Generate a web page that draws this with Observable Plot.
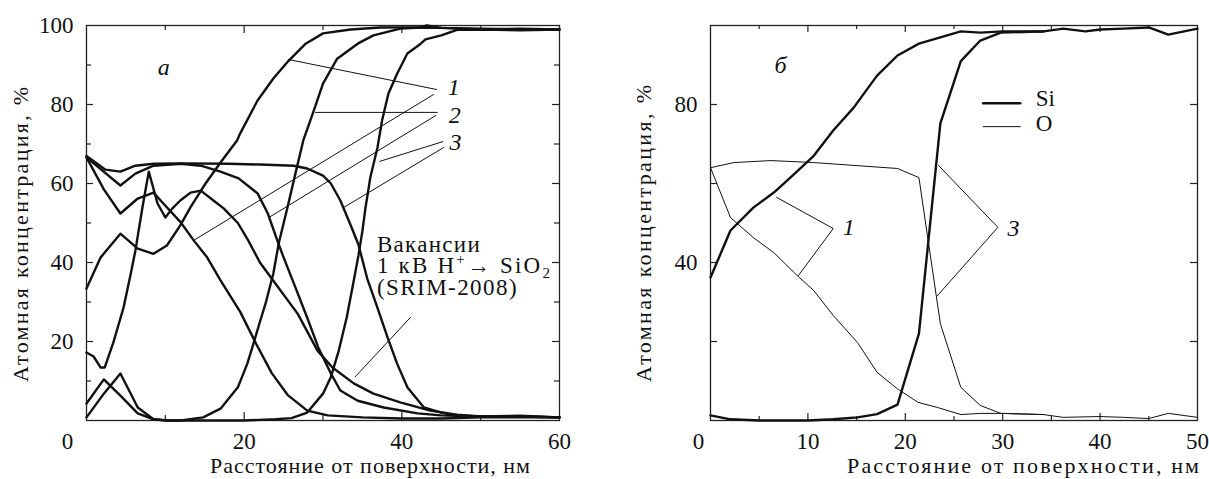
<!DOCTYPE html>
<html><head><meta charset="utf-8">
<script src="https://cdn.jsdelivr.net/npm/d3@7"></script>
<script src="https://cdn.jsdelivr.net/npm/@observablehq/plot@0.6"></script>
<style>
body{margin:0;background:#fff;}
#wrap{display:flex;width:1209px;height:479px;overflow:hidden;}
svg{overflow:visible;}
</style></head><body><div id="wrap"></div>
<script>
const FONT = '"Liberation Serif", "Times New Roman", serif';

// ---------- Panel а: depth (nm) vs atomic concentration (%) ----------
const aSi1 = [[0,33.4],[1.8,41.3],[4.3,47.3],[6.5,43.5],[8.5,42.2],[10.2,44.3],[11.9,49.4],[13.2,54],[15.1,60],[17,65.3],[19.1,70.9],[19.5,72.7],[21.7,81],[23.7,86.6],[25.6,91],[27.8,95.4],[30,98],[33.5,99],[37.3,99.5],[42.4,99.6],[43.2,100],[45,99.4],[50,99.2],[55,99],[60,99]];
const aO1 = [[0,66.6],[2.2,58.5],[4.3,52.4],[6.5,56.2],[8.5,57.7],[9.4,55.7],[11.9,50.3],[13.6,45.6],[15.3,41.3],[17,35.5],[19.5,27.5],[21.5,19.5],[23.5,12],[25.5,6.5],[28,2.5],[30.6,1.3],[35,0.8],[40,0.5],[45,0.5],[50,0.8],[55,0.8],[60,0.8]];
const aSi2 = [[0,4.3],[2.2,10.4],[4.3,6.3],[6.5,1.8],[8.5,0.3],[10.3,0],[12,0],[14.8,0.8],[17,3],[19.2,8.4],[20.4,14.4],[21.2,19.6],[22,25],[22.7,29.5],[23.7,37.2],[24.4,45],[25.5,54],[26.5,62.5],[27.5,70.9],[28.7,77.7],[30,85.3],[31.8,91.6],[34.4,95.4],[36.4,97.5],[39.8,99.2],[42.4,99.5],[45,99.4],[50,99],[55,99.2],[60,99]];
const aO2 = [[0,66.6],[4.3,59.5],[6.2,62.5],[8.5,64.5],[12,65],[14.5,64.5],[17,63],[19.3,61.3],[21.7,57.5],[23,52.4],[24.2,45.6],[25,41.3],[26.5,33.7],[28,26],[29.4,18.5],[31,11.9],[32.2,7.6],[34.4,5],[37.7,3.3],[42,1.8],[45,1.3],[50,1],[55,1],[60,0.8]];
const aSi3 = [[0,0.8],[2.2,6.8],[4.3,11.9],[6.5,3.3],[8.5,0.3],[10,0],[15,0],[20,0],[24,0.3],[26,0.6],[28,2],[30,6.8],[31,11],[32,17.7],[33,26],[33.9,35.4],[34.5,41.8],[35,48],[35.4,54],[36,61.5],[36.9,69],[37.5,76],[38.3,82.8],[39.4,87.8],[40.7,92.9],[42.4,95.4],[43,96.5],[45,97.5],[47,98.9],[50,99],[55,98.8],[60,99]];
const aO3 = [[0,67],[2.4,63.5],[4.3,63],[6.2,64.5],[8.5,65],[12,65.1],[18,65],[22,64.8],[26.3,64.5],[28,63.8],[30,62],[31,60],[32.2,55.7],[33.5,49.5],[34.5,44.5],[35.6,36],[36.9,28.6],[38.2,21],[39.4,14.4],[40.7,8.4],[42.8,3.3],[45,2],[47,1.2],[50,1],[55,1.2],[60,0.8]];
const aVac = [[0,17.2],[0.9,16.2],[1.8,13.4],[2.3,13.4],[3.4,19.7],[4.7,28.6],[5.6,37],[6.2,43],[7.1,54],[7.9,63],[9,55],[10,51.4],[10.9,53.7],[11.9,55.7],[13.2,57.7],[14.5,58.2],[16.1,55.7],[17.4,53.7],[19.2,50],[20.4,46],[22,40],[23.7,35.4],[26.8,27],[29.3,17.7],[31.2,13.4],[33.9,9.4],[36.4,6.8],[39.8,4.6],[43.6,2.5],[47,1.5],[50,1],[55,1],[60,0.8]];
const aXLabels = [20,40,60];
const aYLabels = [20,40,60,80,100];
const aXMajor = [20,40], aXMinor = [10,30,50];
const aYMajor = [20,40,60,80], aYMinor = [10,30,50,70,90];

// ---------- Panel б ----------
const bSi1 = [[0,36.2],[2.05,48.1],[4.4,53.9],[6.5,57.7],[8.2,61.5],[10.6,67],[12.6,73.4],[14.7,79.2],[17.1,87.3],[19.2,92.4],[21.4,95.4],[23.6,97],[25.7,98.5],[27.7,98.2],[30,98.5],[34.2,98.5],[36.2,99.2],[38.5,98.5],[40,99],[42.4,99.2],[45,99.5],[47,97.7],[50,99.2]];
const bSi3 = [[0,1.3],[2.05,0.3],[5,0],[10,0],[12.6,0.3],[15.1,0.8],[17.1,1.6],[19.2,4],[21.4,22],[23.6,75.2],[25.7,91],[27.7,96.2],[29.8,98.2],[34.2,98.5]];
const bO1 = [[0,64],[2.05,51.4],[4.4,46.3],[6.5,42.5],[8.9,36.7],[10.6,32.9],[12.6,26.6],[15.1,19.7],[17.1,12.2],[19.2,8],[21.3,4.6],[23.3,3.3],[25.7,1.5],[27.7,1.8],[30,1.8],[34.2,1.5]];
const bO3 = [[0,64],[2.4,65.3],[6.2,65.8],[10.6,65.3],[19.2,63.8],[21.4,61.5],[23.6,24.5],[25.7,8.4],[27.7,3.8],[29.8,1.8],[34.2,1.5],[36.2,0.8],[40,1],[42.4,0.8],[45,0.5],[47,1.8],[50,0.8]];
const bXLabels = [10,20,30,40,50];
const bYLabels = [40,80];
const bXMajor = [10,20,30,40], bXMinor = [5,15,25,35,45];
const bYMajor = [20,40,60,80];

// ---------- annotations (data units) ----------
const aLeaders = [
  [[44.4,83.8],[25.6,91.4]], [[44.0,82.5],[13.6,45.6]],
  [[29.05,78],[44.5,78]], [[44.3,77.2],[23.3,51.6]],
  [[45.2,70.6],[37.2,65.6]], [[45.3,69.1],[32.6,53.9]],
  [[41.1,26.1],[34.1,11.1]]
];
const aNums = [{x:46.6,y:84.3,t:"1"},{x:46.7,y:77.2,t:"2"},{x:46.8,y:70.4,t:"3"},{x:9.8,y:89.4,t:"а"}];
const bLeaders = [[[6.78,56.5],[12.6,48.6],[9.03,36.7]], [[23.4,64.6],[29.5,48.9],[23.3,31.6]]];
const bNums = [{x:14.2,y:48.9,t:"1"},{x:31.1,y:48.6,t:"3"},{x:7.2,y:89.9,t:"б"}];
const bLegendSi = [[28.0,80.3],[31.8,80.3]];
const bLegendO = [[28.0,74.4],[31.8,74.4]];
const bLegendText = [{x:33.4,y:81.6,t:"Si"},{x:33.4,y:75.1,t:"O"}];

const INK = "#111";
const H = 395; // frame height in px

function tickMarks(xMajor, xMinor, yMajor, yMinor, W, lenX, lenXm, lenY, lenYm) {
  const s = {stroke: "#222", strokeWidth: 1.2};
  const m = [];
  m.push(Plot.ruleX(xMajor, {x: d => d, insetTop: H - lenX, ...s}));
  m.push(Plot.ruleX(xMajor, {x: d => d, insetBottom: H - lenX, ...s}));
  if (xMinor.length) {
    m.push(Plot.ruleX(xMinor, {x: d => d, insetTop: H - lenXm, ...s}));
    m.push(Plot.ruleX(xMinor, {x: d => d, insetBottom: H - lenXm, ...s}));
  }
  m.push(Plot.ruleY(yMajor, {y: d => d, insetRight: W - lenY, ...s}));
  m.push(Plot.ruleY(yMajor, {y: d => d, insetLeft: W - lenY, ...s}));
  if (yMinor.length) {
    m.push(Plot.ruleY(yMinor, {y: d => d, insetRight: W - lenYm, ...s}));
    m.push(Plot.ruleY(yMinor, {y: d => d, insetLeft: W - lenYm, ...s}));
  }
  return m;
}
const thick = arr => Plot.line(arr, {x: d => d[0], y: d => d[1], stroke: INK, strokeWidth: 2.4, strokeLinejoin: "round"});
const thin = arr => Plot.line(arr, {x: d => d[0], y: d => d[1], stroke: INK, strokeWidth: 1, strokeLinejoin: "round"});

const styleObj = {fontFamily: FONT, fontSize: "23px", color: INK, background: "white", overflow: "visible"};

const plotA = Plot.plot({
  width: 600, height: 479, marginLeft: 86, marginRight: 41, marginTop: 25, marginBottom: 59,
  x: {domain: [0, 60], axis: null}, y: {domain: [0, 100], axis: null},
  style: styleObj,
  marks: [
    ...tickMarks(aXMajor, aXMinor, aYMajor, aYMinor, 473, 8, 5, 7, 5),
    Plot.frame({stroke: "#222", strokeWidth: 1.3}),
    Plot.axisX({ticks: aXLabels, tickSize: 0, tickPadding: 12, label: null}),
    Plot.axisX({ticks: [0], tickSize: 0, tickPadding: 12, dx: -19, label: null}),
    Plot.axisY({ticks: aYLabels, tickSize: 0, tickPadding: 13, label: null}),
    ...aLeaders.map(thin),
    thick(aSi1), thick(aO1), thick(aSi2), thick(aO2), thick(aSi3), thick(aO3), thick(aVac),
    Plot.text(aNums, {x: "x", y: "y", text: "t", fontStyle: "italic", fontSize: 24, textAnchor: "middle", lineAnchor: "middle", fill: INK})
  ]
});

const plotB = Plot.plot({
  width: 609, height: 479, marginLeft: 110, marginRight: 12, marginTop: 25, marginBottom: 59,
  x: {domain: [0, 50], axis: null}, y: {domain: [0, 100], axis: null},
  style: styleObj,
  marks: [
    ...tickMarks(bXMajor, bXMinor, bYMajor, [], 487, 7, 4, 7, 5),
    Plot.frame({stroke: "#222", strokeWidth: 1.3}),
    Plot.axisX({ticks: bXLabels, tickSize: 0, tickPadding: 12, label: null}),
    Plot.axisX({ticks: [0], tickSize: 0, tickPadding: 12, dx: -12, label: null}),
    Plot.axisY({ticks: bYLabels, tickSize: 0, tickPadding: 13, label: null}),
    ...bLeaders.map(thin),
    thick(bSi1), thick(bSi3), thin(bO1), thin(bO3),
    Plot.line(bLegendSi, {x: d => d[0], y: d => d[1], stroke: INK, strokeWidth: 2.6}),
    Plot.line(bLegendO, {x: d => d[0], y: d => d[1], stroke: INK, strokeWidth: 1}),
    Plot.text(bLegendText, {x: "x", y: "y", text: "t", fontSize: 23, textAnchor: "start", lineAnchor: "middle", fill: INK}),
    Plot.text(bNums, {x: "x", y: "y", text: "t", fontStyle: "italic", fontSize: 24, textAnchor: "middle", lineAnchor: "middle", fill: INK})
  ]
});

function title(svg, x, y, str, len, rotate) {
  return d3.select(svg).append("text")
    .attr("transform", `translate(${x},${y})` + (rotate ? " rotate(-90)" : ""))
    .attr("x", 0).attr("y", 0)
    .attr("text-anchor", "start")
    .attr("font-family", FONT).attr("font-size", 22).attr("fill", INK)
    .attr("textLength", len).attr("lengthAdjust", "spacing")
    .text(str);
}
title(plotA, 28, 382, "Атомная концентрация, %", 295, true);
title(plotA, 210, 473, "Расстояние от поверхности, нм", 320, false);
title(plotB, 51, 382, "Атомная концентрация, %", 297, true);
title(plotB, 247, 473, "Расстояние от поверхности, нм", 352, false);

// vacancy caption in panel а (one text block, three lines)
const vacX = 36.9;
const vacBase = [42.5, 37.2, 31.6];
{
  const sx = plotA.scale("x"), sy = plotA.scale("y");
  const X = sx.apply(vacX);
  const t = d3.select(plotA).append("text").attr("font-family", FONT).attr("font-size", 23)
    .attr("fill", INK).attr("text-anchor", "start").attr("x", X).attr("y", sy.apply(vacBase[0]));
  t.append("tspan").attr("x", X).attr("y", sy.apply(vacBase[0])).attr("letter-spacing", "1.3px").text("Вакансии");
  const y2 = sy.apply(vacBase[1]);
  t.append("tspan").attr("x", X).attr("y", y2).attr("letter-spacing", "2.2px").text("1 кВ H");
  t.append("tspan").attr("y", y2 - 9).attr("font-size", 15).attr("letter-spacing", "2.2px").text("+");
  t.append("tspan").attr("y", y2).attr("letter-spacing", "2.2px").text("→ SiO");
  t.append("tspan").attr("y", y2 + 5).attr("font-size", 15).text("2");
  t.append("tspan").attr("x", X).attr("y", sy.apply(vacBase[2])).attr("letter-spacing", "1.45px").text("(SRIM-2008)");
}

const wrap = document.getElementById("wrap");
wrap.appendChild(plotA);
wrap.appendChild(plotB);
</script>
</body></html>
